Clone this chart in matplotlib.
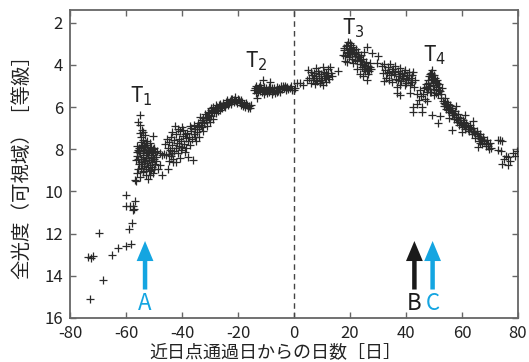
import numpy as np
import matplotlib
matplotlib.use("Agg")
import matplotlib.pyplot as plt

plt.rcParams['font.family'] = ['Noto Sans CJK JP', 'DejaVu Sans']
plt.rcParams['mathtext.fontset'] = 'dejavusans'
plt.rcParams['axes.unicode_minus'] = False

# --- data: (days from perihelion, total magnitude) ---
early = [(-73.5, 13.1), (-72.5, 13.16), (-71.7, 13.05), (-72.9, 15.1), (-68.1, 14.2),
         (-69.5, 11.98), (-65.1, 12.99), (-63.0, 12.7), (-60.1, 12.57), (-58.3, 12.49),
         (-58.9, 11.8), (-57.7, 11.48), (-57.4, 10.87), (-57.0, 10.83), (-57.4, 10.67),
         (-58.6, 10.71), (-60.0, 10.67), (-56.8, 10.46), (-60.0, 10.18), (-56.4, 9.51)]

t1 = [(-55.0, 6.38), (-55.6, 6.72), (-55.0, 6.86), (-54.4, 7.10), (-55.1, 7.25), (-53.8, 7.20),
      (-53.2, 7.33), (-54.6, 7.42), (-53.9, 7.55), (-52.6, 7.62), (-50.2, 7.38), (-51.3, 7.72),
      (-56.2, 7.85), (-55.8, 8.05), (-55.9, 8.30), (-56.4, 8.52), (-55.5, 8.70), (-55.2, 7.95),
      (-54.9, 8.18), (-54.7, 8.45), (-54.5, 8.62), (-54.2, 7.78), (-54.0, 8.02), (-53.8, 8.35),
      (-53.6, 8.55), (-53.5, 8.80), (-53.2, 7.90), (-53.0, 8.12), (-52.8, 8.40), (-52.6, 8.66),
      (-52.4, 7.82), (-52.2, 8.05), (-52.0, 8.28), (-51.8, 8.50), (-51.6, 8.75), (-51.4, 7.95),
      (-51.2, 8.20), (-51.0, 8.42), (-50.8, 8.60), (-50.6, 8.85), (-50.4, 8.00), (-50.2, 8.25),
      (-50.0, 8.48), (-49.8, 8.70), (-49.6, 8.15), (-49.4, 8.38), (-55.6, 8.95), (-54.8, 8.88),
      (-53.9, 9.02), (-52.9, 8.95), (-51.9, 9.05), (-50.9, 9.00), (-49.9, 8.92),
      (-56.8, 9.48), (-56.2, 9.15), (-55.0, 9.30), (-53.8, 9.08), (-53.0, 9.22), (-51.4, 9.24),
      (-52.2, 9.40), (-50.3, 9.15), (-48.5, 8.95), (-47.3, 9.24), (-48.0, 8.75), (-44.9, 8.92),
      (-43.1, 8.60),
      (-55.3, 8.10), (-54.6, 7.90), (-54.1, 8.25), (-53.4, 8.05), (-52.9, 7.70), (-52.5, 8.20),
      (-51.7, 8.10), (-51.1, 7.88), (-50.5, 8.35), (-49.9, 7.95), (-55.7, 8.45), (-54.3, 8.72),
      (-53.1, 8.58), (-52.1, 8.85), (-50.7, 8.15), (-54.8, 7.65), (-53.7, 7.85), (-56.0, 8.15),
      (-49.2, 8.55), (-48.8, 8.10)]

rise = [(-48.0, 8.20), (-47.2, 8.25), (-46.4, 8.22), (-45.6, 8.28), (-44.8, 8.24), (-44.0, 8.30),
        (-43.4, 8.18), (-46.0, 7.75), (-45.5, 7.50), (-45.0, 7.95), (-44.5, 7.65), (-44.2, 8.05),
        (-43.8, 7.40), (-43.5, 7.80), (-43.0, 8.10), (-42.8, 7.55), (-42.5, 6.88), (-42.3, 7.95),
        (-42.0, 7.30), (-41.8, 7.70), (-41.5, 8.20), (-41.2, 7.50), (-41.0, 7.85), (-40.7, 7.15),
        (-40.5, 8.05), (-40.2, 7.60), (-40.0, 7.90), (-39.8, 7.35), (-39.5, 7.10), (-39.2, 7.75),
        (-39.0, 8.15), (-38.7, 7.45), (-38.5, 7.95), (-38.2, 7.25), (-38.0, 7.60), (-37.7, 8.35),
        (-37.4, 7.40), (-37.1, 6.88), (-37.0, 7.80), (-36.7, 7.15), (-36.5, 7.50), (-36.2, 8.50),
        (-35.8, 7.30), (-44.8, 8.55), (-43.3, 8.45), (-42.0, 8.62), (-40.8, 8.40),
        (-35.5, 7.05), (-35.2, 7.40), (-34.8, 6.90), (-34.5, 7.20), (-34.2, 6.75), (-33.8, 7.05),
        (-33.6, 6.46), (-33.3, 6.85), (-33.0, 6.60), (-32.7, 6.95), (-32.4, 6.50), (-32.1, 6.75),
        (-31.8, 6.35), (-31.5, 6.62), (-31.2, 6.45), (-30.8, 6.25), (-30.5, 6.55), (-30.2, 6.30),
        (-29.8, 6.15), (-29.5, 6.42), (-29.2, 6.20), (-28.8, 5.98), (-28.5, 6.25), (-28.2, 6.08),
        (-27.8, 6.30), (-27.5, 6.00), (-27.1, 6.18), (-26.8, 5.90), (-26.4, 6.12), (-26.0, 5.95),
        (-25.6, 6.05), (-25.2, 5.82), (-24.8, 6.00), (-24.4, 5.75), (-24.0, 5.67), (-23.6, 5.92),
        (-23.2, 5.80), (-22.8, 5.70), (-22.4, 5.85), (-22.0, 5.62), (-21.6, 5.78), (-21.1, 5.51),
        (-35.0, 7.62), (-33.9, 7.40), (-32.5, 7.15), (-31.0, 6.90), (-30.0, 6.70), (-29.0, 6.55),
        (-20.6, 5.70), (-20.2, 5.82), (-19.8, 5.65), (-19.3, 5.75), (-19.0, 5.90), (-18.6, 5.78),
        (-18.2, 5.95), (-17.8, 5.85), (-17.4, 6.00), (-16.9, 5.90), (-16.5, 6.05), (-16.1, 5.95),
        (-15.7, 6.06), (-15.4, 5.88),
        (-43.6, 7.20), (-41.6, 7.05), (-39.9, 6.95), (-38.9, 7.30), (-36.9, 7.00), (-35.6, 6.85),
        (-34.0, 6.95), (-32.8, 6.70), (-31.6, 6.50), (-30.4, 6.40), (-29.6, 6.05), (-28.0, 5.92),
        (-26.6, 5.85), (-25.0, 5.95), (-23.8, 5.78), (-22.6, 5.60), (-21.4, 5.66), (-20.0, 5.60),
        (-18.9, 5.68), (-17.0, 5.80)]

plateau = [(-14.2, 5.20), (-13.9, 5.10), (-13.6, 5.35), (-13.3, 5.59), (-13.0, 5.15), (-12.7, 5.28),
           (-12.4, 5.05), (-12.1, 5.22), (-11.8, 5.12), (-11.5, 5.30), (-11.0, 4.71), (-11.2, 5.18),
           (-10.8, 5.05), (-10.4, 5.25), (-10.0, 5.12), (-9.6, 5.35), (-9.2, 5.20), (-8.6, 4.80),
           (-8.8, 5.30), (-8.4, 5.15), (-8.0, 5.40), (-7.6, 5.25), (-7.2, 5.10), (-6.8, 5.32),
           (-6.4, 5.18), (-6.0, 5.05), (-5.6, 5.22), (-5.2, 5.10), (-4.8, 5.00), (-4.4, 5.15),
           (-4.0, 4.98), (-3.6, 5.08), (-3.2, 5.02), (-2.8, 5.12), (-2.4, 5.05), (-2.0, 5.15),
           (-1.5, 5.10), (-0.8, 5.20), (-0.1, 5.19),
           (1.0, 4.87), (2.1, 4.87), (3.3, 4.95), (4.5, 4.70), (5.1, 4.24), (5.5, 4.62), (6.0, 4.85),
           (6.4, 4.50), (6.8, 4.72), (7.2, 4.40), (7.5, 4.90), (7.9, 4.55), (8.3, 4.78), (8.6, 4.30),
           (9.0, 4.60), (9.3, 4.85), (9.7, 4.45), (10.0, 4.70), (10.4, 4.95), (10.8, 4.35),
           (11.1, 4.62), (11.5, 4.80), (11.8, 4.50), (12.2, 4.20), (12.5, 4.68), (12.9, 4.08),
           (13.2, 4.40), (13.5, 4.55), (15.8, 4.27), (8.0, 4.15), (10.2, 4.12),
           (-13.4, 5.00), (-12.2, 4.95), (-10.6, 5.40), (-9.0, 5.05), (-7.8, 5.12), (-6.2, 5.28),
           (-5.0, 5.30), (-3.0, 5.20), (-1.2, 5.00), (0.5, 5.10), (6.2, 4.35), (7.0, 4.60),
           (8.8, 4.45), (9.5, 4.70), (11.3, 4.40), (12.0, 4.58), (10.6, 4.55), (7.7, 4.70)]

t3 = [(17.6, 3.55), (17.9, 3.30), (18.2, 3.60), (18.5, 3.10), (18.8, 3.40), (19.0, 3.85), (19.4, 2.94),
      (19.6, 3.25), (19.9, 3.50), (20.2, 3.05), (20.5, 3.35), (20.8, 3.70), (21.1, 3.15), (21.4, 3.45),
      (21.7, 3.60), (22.0, 3.25), (22.3, 3.50), (22.6, 3.80), (22.9, 3.40), (23.2, 3.65), (23.5, 3.95),
      (23.8, 3.55), (24.1, 3.80), (24.4, 4.10), (24.7, 3.70), (25.0, 4.00), (25.3, 4.30), (25.6, 3.85),
      (25.9, 4.15), (26.0, 4.71), (26.3, 4.45), (26.6, 4.05), (26.9, 4.30), (27.2, 3.90), (27.5, 4.20),
      (27.7, 3.45), (22.5, 4.20), (23.4, 4.45), (24.6, 4.55), (18.3, 3.80), (21.0, 3.90), (20.0, 2.98),
      (19.0, 3.05), (26.0, 3.15), (25.0, 3.40),
      (18.0, 3.20), (19.2, 3.45), (20.4, 3.20), (21.2, 3.30), (21.9, 3.75), (22.7, 3.60), (23.6, 3.75),
      (24.2, 3.95), (24.9, 4.20), (25.5, 4.05), (26.2, 4.25), (27.0, 4.10), (20.7, 3.50), (19.7, 3.65),
      (29.5, 3.92), (30.1, 3.60), (31.3, 4.05), (31.8, 4.40), (32.2, 3.95), (32.6, 4.25), (33.0, 4.60),
      (33.4, 4.10), (33.8, 4.35), (34.2, 3.95), (34.6, 4.50), (34.9, 4.80), (35.3, 4.20), (35.7, 4.45),
      (36.0, 4.05), (36.4, 4.65), (36.7, 5.03), (36.7, 5.35), (37.1, 4.30), (37.5, 4.55), (37.9, 4.15),
      (37.9, 5.43), (38.3, 4.75), (38.7, 4.40), (39.1, 4.60), (39.5, 4.25), (39.9, 4.85), (40.3, 4.50),
      (40.7, 4.70), (41.1, 4.35), (41.4, 5.35), (41.5, 4.95), (41.9, 4.60), (42.3, 4.80), (42.6, 4.32),
      (43.0, 5.05), (43.3, 4.70), (32.0, 4.75), (34.0, 4.70), (38.0, 4.95),
      (33.2, 4.40), (35.0, 4.30), (36.2, 4.35), (37.3, 4.70), (38.5, 4.55), (39.3, 4.40), (40.1, 4.65),
      (40.9, 4.50), (41.7, 4.80), (42.1, 4.50), (39.7, 4.95), (37.7, 4.45)]

t4 = [(42.6, 5.98), (42.6, 6.22), (45.6, 5.98), (45.6, 6.22), (44.0, 5.40), (44.5, 5.65), (45.0, 5.20),
      (43.8, 5.85), (45.3, 5.50),
      (46.2, 5.40), (46.5, 5.10), (46.8, 5.60), (47.1, 4.90), (47.4, 5.30), (47.7, 4.70), (48.0, 5.15),
      (48.3, 4.55), (48.6, 5.00), (48.9, 4.40), (49.2, 4.24), (49.5, 4.65), (49.8, 4.95), (50.1, 4.50),
      (50.4, 4.80), (50.7, 5.20), (51.0, 4.70), (51.3, 5.05), (51.6, 5.40), (51.9, 4.90), (52.2, 5.25),
      (52.5, 5.55), (52.8, 5.10), (49.0, 5.30), (50.0, 5.45), (47.5, 5.70), (49.2, 6.38), (52.1, 6.43),
      (51.5, 6.78), (48.5, 4.45), (50.5, 4.60),
      (47.9, 4.85), (48.2, 5.00), (48.8, 4.70), (49.3, 4.50), (49.6, 4.85), (50.2, 4.75), (50.8, 4.95),
      (51.2, 4.85), (51.8, 5.20), (52.4, 5.40), (49.9, 5.15), (48.4, 5.30), (47.3, 5.05), (50.6, 5.35)]

late = [(53.2, 5.70), (53.5, 5.95), (53.8, 5.55), (54.1, 5.85), (54.4, 6.10), (54.7, 5.75), (55.0, 6.00),
        (55.3, 6.25), (55.6, 5.90), (55.9, 6.15), (56.3, 6.40), (56.3, 7.10), (56.6, 6.05), (56.9, 6.30),
        (57.2, 6.55), (57.5, 6.20), (57.8, 6.45), (58.1, 6.70), (58.4, 6.35), (58.7, 6.60), (59.0, 6.85),
        (59.3, 6.50), (59.9, 7.18), (59.6, 6.75), (60.0, 6.95), (60.4, 6.60), (60.8, 6.85), (61.2, 7.05),
        (61.6, 6.75), (62.0, 6.95), (62.4, 7.15), (62.8, 6.85), (63.2, 7.05), (63.6, 7.30), (64.0, 7.00),
        (64.4, 7.20), (64.8, 7.45), (65.2, 7.15), (65.8, 7.89), (65.6, 7.35), (66.0, 7.60), (66.4, 7.30),
        (66.8, 7.50), (67.2, 7.75), (67.6, 7.40), (68.0, 7.60), (68.4, 7.85), (68.8, 7.55), (69.2, 7.75),
        (69.6, 8.00), (70.0, 7.70), (73.0, 7.57), (73.6, 7.57), (74.4, 7.60), (73.0, 8.05), (73.8, 8.10),
        (74.2, 8.68), (75.0, 8.45), (75.6, 8.30), (76.5, 8.76), (76.5, 8.37), (77.2, 8.55), (78.3, 8.20),
        (79.0, 8.30), (79.6, 8.10), (55.5, 6.50), (58.0, 5.95), (61.0, 6.40), (64.0, 6.65),
        (53.6, 5.80), (54.3, 5.95), (55.1, 6.15), (55.8, 6.05), (56.5, 6.20), (57.1, 6.40), (57.9, 6.55),
        (58.6, 6.45), (59.4, 6.70), (60.2, 6.80), (61.4, 6.90), (62.2, 7.05), (63.0, 6.95), (63.8, 7.15),
        (64.6, 7.30), (65.4, 7.25), (66.2, 7.45), (67.0, 7.60), (67.8, 7.55), (68.6, 7.70), (69.4, 7.85),
        (70.2, 7.95), (54.9, 5.85), (60.6, 6.70), (66.6, 7.70)]

# labelled turning points and arrows
peak_names = ['T$_1$', 'T$_2$', 'T$_3$', 'T$_4$']
peak_pos = [(-58.6, 5.8), (-17.5, 4.1), (17.1, 2.57), (46.0, 3.86)]
arrow_names = ['A', 'B', 'C']
arrow_days = [-53.2, 43.0, 49.5]
arrow_colors = ['#14a5e1', '#1a1a1a', '#14a5e1']

pts = np.array(early + t1 + rise + plateau + t3 + t4 + late)

fig = plt.figure(figsize=(5.29, 3.62), dpi=100)
ax = fig.add_axes([70 / 529, 44 / 362, 448 / 529, 308 / 362])

ax.scatter(pts[:, 0], pts[:, 1], marker='+', s=26, linewidths=0.9, color='#2a2a2a', zorder=3)
ax.axvline(0, color='#444444', lw=1.0, ls=(0, (4, 3)), zorder=2)

for name, (x, y) in zip(peak_names, peak_pos):
    ax.text(x, y, name, fontsize=15, ha='left', va='baseline', color='#222222')

for name, x, c in zip(arrow_names, arrow_days, arrow_colors):
    ax.arrow(x, 14.65, 0, -2.3, width=1.6, head_width=6.0, head_length=0.95,
             length_includes_head=True, color=c, lw=0, zorder=4)
    ax.text(x, 15.3, name, fontsize=16, ha='center', va='center', color=c)

ax.set_xlim(-80, 80)
ax.set_ylim(16, 1.4)
ax.set_xticks(np.arange(-80, 81, 20))
ax.set_yticks(np.arange(2, 17, 2))
ax.tick_params(direction='in', top=True, right=True, length=4, width=1, color='#666666',
               labelsize=12, labelcolor='#222222')
ax.tick_params(axis='x', pad=5)
ax.tick_params(axis='y', pad=5)
for sp in ax.spines.values():
    sp.set_color('#666666')
    sp.set_linewidth(1.3)

fig.text(275 / 529, 1 - 352.5 / 362, '近日点通過日からの日数［日］', fontsize=13,
         ha='center', va='center', color='#222222')
fig.text(22 / 529, 1 - 162 / 362, '全光度（可視域）［等級］', fontsize=14, rotation=90,
         ha='center', va='center', color='#222222')

fig.savefig('out.png', dpi=100)
